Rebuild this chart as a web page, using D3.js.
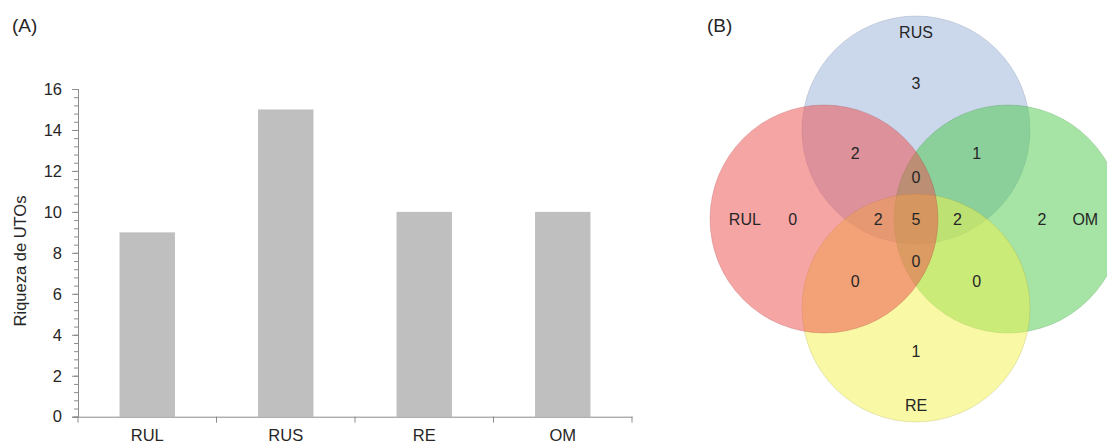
<!DOCTYPE html>
<html>
<head>
<meta charset="utf-8">
<script src="https://cdn.jsdelivr.net/npm/d3@7"></script>
<style>
	body { margin: 0; background: #fff; }
	svg { display: block; font-family: "Liberation Sans", Arial, sans-serif; }
</style>
</head>
<body>
<svg id="chart" width="1107" height="444"></svg>
<script>

// (A) bar chart data
var categories = ["RUL", "RUS", "RE", "OM"]
var richness = [9, 15, 10, 10]
var y_ticks = [0, 2, 4, 6, 8, 10, 12, 14, 16]

// (B) venn data
var sets = ["RUS", "OM", "RE", "RUL"]   // drawing order, bottom to top
var set_colours = ["#97afd7", "#4bc94b", "#f1f14b", "#ed4b4b"]
var regions = ["RUS", "RUL&RUS", "RUS&OM", "RUL&RUS&OM", "RUL", "RUL&RUS&RE", "RUL&RUS&RE&OM",
	"RUS&RE&OM", "OM", "RUL&RE&OM", "RUL&RE", "RE&OM", "RE"]
var region_counts = [3, 2, 1, 0, 0, 2, 5, 2, 2, 0, 0, 0, 1]

// venn layout, in unit coordinates
var set_centres = {RUS: [0, -1], RUL: [-1, 0], OM: [1, 0], RE: [0, 1]}
var set_label_pos = {RUS: [0, -2.1], RUL: [-1.86, 0], OM: [1.84, 0], RE: [0, 2.09]}
var region_pos = {
	"RUS": [0, -1.53], "RUL&RUS": [-0.66, -0.74], "RUS&OM": [0.66, -0.74], "RUL&RUS&OM": [0, -0.47],
	"RUL": [-1.34, 0], "RUL&RUS&RE": [-0.41, 0], "RUL&RUS&RE&OM": [0, 0], "RUS&RE&OM": [0.45, 0],
	"OM": [1.37, 0], "RUL&RE&OM": [0, 0.48], "RUL&RE": [-0.66, 0.70], "RE&OM": [0.66, 0.70], "RE": [0, 1.49]
}

function zip(a, b) {
	return a.map(function(d, i) {return [d, b[i]]})
}

var svg = d3.select("#chart")
var text_colour = "#262626"
var axis_colour = "#8c8c8c"
var font = "Liberation Sans, Arial, sans-serif"

// ---------- (A) ----------
var x = d3.scaleBand().domain(categories).range([78, 632]).paddingInner(0.6).paddingOuter(0.3)
var y = d3.scaleLinear().domain([0, 16]).range([416.7, 89])

svg.append("text")
	.attr("x", 12)
	.attr("y", 32)
	.attr("font-size", 19)
	.attr("fill", text_colour)
	.text("(A)")

var bars_g = svg.append("g")
bars_g.selectAll(".bar")
	.data(zip(categories, richness))
	.enter()
	.append("rect")
	.attr("class", "bar")
	.attr("x", function(d) {return x(d[0])})
	.attr("width", x.bandwidth())
	.attr("y", function(d) {return y(d[1])})
	.attr("height", function(d) {return y(0) - y(d[1])})
	.attr("fill", "#bfbfbf")

// minor ticks every 0.4
var minor = d3.range(0, 16.001, 0.4)
var minor_axis = svg.append("g")
	.attr("transform", "translate(78,0)")
	.call(d3.axisLeft(y).tickValues(minor).tickSize(4).tickFormat(""))

var y_axis = svg.append("g")
	.attr("transform", "translate(78,0)")
	.call(d3.axisLeft(y).tickValues(y_ticks).tickSize(6).tickPadding(10).tickFormat(d3.format("d")))

;[minor_axis, y_axis].forEach(function(g) {
	g.selectAll("path,line").attr("stroke", axis_colour)
})
y_axis.attr("font-size", 16.5).attr("font-family", font)
y_axis.selectAll("text").attr("fill", text_colour)

var x_axis = svg.append("g")
	.attr("transform", "translate(0," + y(0) + ")")
	.call(d3.axisBottom(x).tickSize(0).tickSizeOuter(0))
x_axis.attr("font-size", 16.5).attr("font-family", font)
x_axis.select(".domain").attr("stroke", axis_colour)
x_axis.selectAll("text")
	.attr("dy", null)
	.attr("y", 24.5)
	.attr("fill", text_colour)

// category boundary ticks
var bounds = d3.range(categories.length + 1)
x_axis.selectAll(".bound")
	.data(bounds)
	.enter()
	.append("line")
	.attr("class", "bound")
	.attr("x1", function(d) {return x.range()[0] + d * x.step()})
	.attr("x2", function(d) {return x.range()[0] + d * x.step()})
	.attr("y1", 0)
	.attr("y2", 6)
	.attr("stroke", axis_colour)

svg.append("text")
	.attr("transform", "translate(26,261) rotate(-90)")
	.attr("text-anchor", "middle")
	.attr("font-size", 16.5)
	.attr("fill", text_colour)
	.text("Riqueza de UTOs")

// ---------- (B) ----------
var sx = d3.scaleLinear().domain([-1, 1]).range([824, 1008])
var sy = d3.scaleLinear().domain([-1, 1]).range([130, 308])
var radius = 114

svg.append("text")
	.attr("x", 707)
	.attr("y", 32)
	.attr("font-size", 19)
	.attr("fill", text_colour)
	.text("(B)")

var venn_g = svg.append("g")
venn_g.selectAll(".set_circle")
	.data(zip(sets, set_colours))
	.enter()
	.append("circle")
	.attr("class", "set_circle")
	.attr("cx", function(d) {return sx(set_centres[d[0]][0])})
	.attr("cy", function(d) {return sy(set_centres[d[0]][1])})
	.attr("r", radius)
	.attr("fill", function(d) {return d[1]})
	.attr("fill-opacity", 0.5)
	.attr("stroke", function(d) {return d3.color(d[1]).darker(1.2)})
	.attr("stroke-opacity", 0.22)
	.attr("stroke-width", 1)

venn_g.selectAll(".set_label")
	.data(sets)
	.enter()
	.append("text")
	.attr("class", "set_label")
	.attr("x", function(d) {return sx(set_label_pos[d][0])})
	.attr("y", function(d) {return sy(set_label_pos[d][1])})
	.attr("dy", "0.36em")
	.attr("text-anchor", "middle")
	.attr("font-size", 16)
	.attr("fill", text_colour)
	.text(function(d) {return d})

venn_g.selectAll(".region_label")
	.data(zip(regions, region_counts))
	.enter()
	.append("text")
	.attr("class", "region_label")
	.attr("x", function(d) {return sx(region_pos[d[0]][0])})
	.attr("y", function(d) {return sy(region_pos[d[0]][1])})
	.attr("dy", "0.36em")
	.attr("text-anchor", "middle")
	.attr("font-size", 16)
	.attr("fill", text_colour)
	.text(function(d) {return d[1]})

</script>
</body>
</html>
